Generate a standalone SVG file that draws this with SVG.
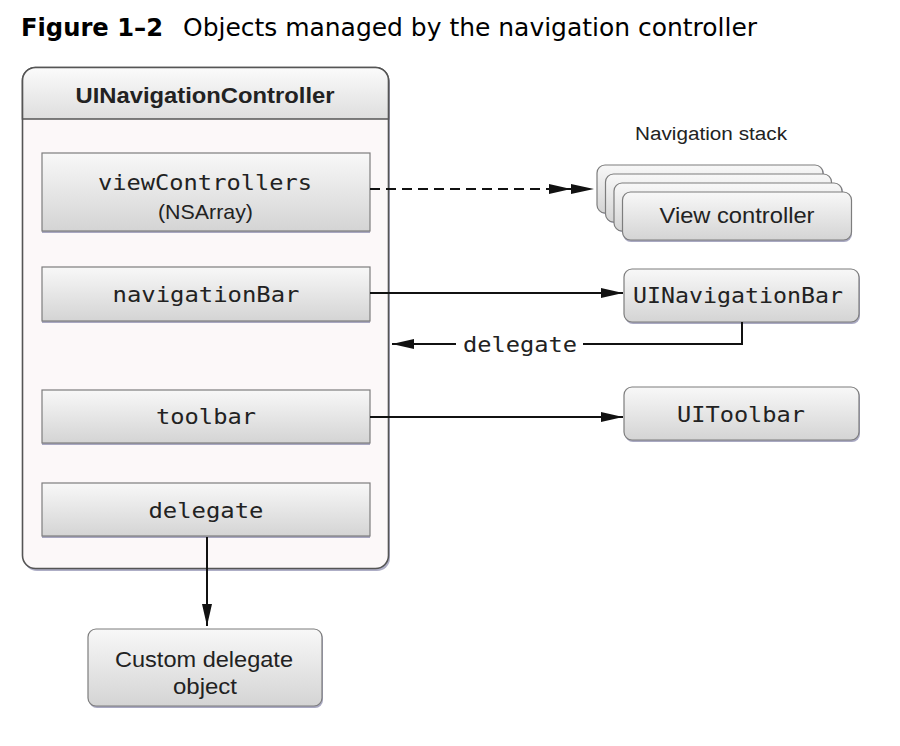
<svg xmlns="http://www.w3.org/2000/svg" width="900" height="746" viewBox="0 0 900 746">
<style>
.mono{font-family:"DejaVu Sans Mono","Liberation Mono",monospace;font-size:21px;fill:#222}
.sans{font-family:"Liberation Sans",Arial,sans-serif;fill:#222}
.box{fill:url(#gBox);stroke:#7d7d7d;stroke-width:1.2}
.shadow{fill:#8c8cae;opacity:0.75}
.conn{fill:none;stroke:#111;stroke-width:2}
</style>
<defs>
<linearGradient id="gBox" x1="0" y1="0" x2="0" y2="1">
<stop offset="0" stop-color="#f8f8f8"/>
<stop offset="1" stop-color="#d4d4d4"/>
</linearGradient>
<linearGradient id="gHead" x1="0" y1="0" x2="0" y2="1">
<stop offset="0" stop-color="#fbfbfb"/>
<stop offset="1" stop-color="#dedede"/>
</linearGradient>
<marker id="arrow" viewBox="0 0 22 10" refX="22" refY="5" markerWidth="22" markerHeight="10" markerUnits="userSpaceOnUse" orient="auto">
<path d="M0,0 L22,5 L0,10 z" fill="#111"/>
</marker>
<marker id="dblarrow" viewBox="0 0 45 10" refX="45" refY="5" markerWidth="45" markerHeight="10" markerUnits="userSpaceOnUse" orient="auto">
<path d="M0,0 L22,5 L0,10 z M22,0 L45,5 L22,10 z" fill="#111"/>
</marker>
</defs>
<rect width="900" height="746" fill="#ffffff"/>

<g id="title">
<text x="21" y="36" font-family="DejaVu Sans, sans-serif" font-size="24" font-weight="bold" fill="#000" textLength="142" lengthAdjust="spacingAndGlyphs">Figure 1–2</text>
<text x="183" y="36" font-family="DejaVu Sans, sans-serif" font-size="24" fill="#000" textLength="574" lengthAdjust="spacingAndGlyphs">Objects managed by the navigation controller</text>
</g>

<g id="navController">
<rect x="24" y="70" width="366" height="501" rx="13" fill="#8c8cae" opacity="0.7"/>
<rect x="22.5" y="67.5" width="366" height="501" rx="13" fill="#fcf8f9" stroke="#555" stroke-width="1.6"/>
<path d="M22.5,119 V80.5 A13,13 0 0 1 35.5,67.5 H375.5 A13,13 0 0 1 388.5,80.5 V119 Z" fill="url(#gHead)" stroke="#555" stroke-width="1.6"/>
<text x="205" y="103" text-anchor="middle" class="sans" font-size="22" font-weight="bold" fill="#111" textLength="259" lengthAdjust="spacingAndGlyphs">UINavigationController</text>
</g>

<g id="viewControllers">
<rect x="42" y="155" width="328" height="78" class="shadow"/>
<rect x="42" y="153" width="328" height="78" class="box"/>
<text x="205" y="190" text-anchor="middle" class="mono" textLength="214" lengthAdjust="spacingAndGlyphs">viewControllers</text>
<text x="205.5" y="219" text-anchor="middle" class="sans" font-size="21" textLength="95" lengthAdjust="spacingAndGlyphs">(NSArray)</text>
</g>

<g id="navigationBar">
<rect x="42" y="269" width="328" height="54" class="shadow"/>
<rect x="42" y="267" width="328" height="54" class="box"/>
<text x="206" y="302" text-anchor="middle" class="mono" textLength="187" lengthAdjust="spacingAndGlyphs">navigationBar</text>
</g>

<g id="toolbar">
<rect x="42" y="392" width="328" height="53" class="shadow"/>
<rect x="42" y="390" width="328" height="53" class="box"/>
<text x="206" y="424" text-anchor="middle" class="mono" textLength="100" lengthAdjust="spacingAndGlyphs">toolbar</text>
</g>

<g id="delegateProp">
<rect x="42" y="485" width="328" height="53" class="shadow"/>
<rect x="42" y="483" width="328" height="53" class="box"/>
<text x="206" y="518" text-anchor="middle" class="mono" textLength="115" lengthAdjust="spacingAndGlyphs">delegate</text>
</g>

<g id="navigationStack">
<text x="711" y="140" text-anchor="middle" class="sans" font-size="18" textLength="152" lengthAdjust="spacingAndGlyphs">Navigation stack</text>
<rect x="598" y="166" width="226" height="48" rx="8" class="shadow"/>
<rect x="597" y="165" width="226" height="48" rx="8" class="box"/>
<rect x="606" y="175" width="226" height="48" rx="8" class="shadow"/>
<rect x="605.5" y="174" width="226" height="48" rx="8" class="box"/>
<rect x="615" y="184" width="228" height="48" rx="8" class="shadow"/>
<rect x="614" y="183" width="228" height="48" rx="8" class="box"/>
<rect x="623" y="194" width="229" height="48" rx="8" class="shadow"/>
<rect x="622.5" y="192" width="229" height="48" rx="8" class="box"/>
<text x="737" y="223" text-anchor="middle" class="sans" font-size="22" textLength="155" lengthAdjust="spacingAndGlyphs">View controller</text>
</g>

<g id="uiNavigationBar">
<rect x="625" y="271" width="235" height="53" rx="8" class="shadow"/>
<rect x="624" y="269" width="235" height="53" rx="8" class="box"/>
<text x="738" y="303" text-anchor="middle" class="mono" textLength="210" lengthAdjust="spacingAndGlyphs">UINavigationBar</text>
</g>

<g id="uiToolbar">
<rect x="625" y="389" width="235" height="53" rx="8" class="shadow"/>
<rect x="624" y="387" width="235" height="53" rx="8" class="box"/>
<text x="741" y="422" text-anchor="middle" class="mono" textLength="128" lengthAdjust="spacingAndGlyphs">UIToolbar</text>
</g>

<g id="customDelegate">
<rect x="89" y="631" width="234" height="77" rx="8" class="shadow"/>
<rect x="88" y="629" width="234" height="77" rx="8" class="box"/>
<text x="204" y="667" text-anchor="middle" class="sans" font-size="22" textLength="178" lengthAdjust="spacingAndGlyphs">Custom delegate</text>
<text x="205" y="694" text-anchor="middle" class="sans" font-size="22" textLength="64" lengthAdjust="spacingAndGlyphs">object</text>
</g>

<g id="connectors">
<path d="M370,189 H594" class="conn" stroke-dasharray="10,6" marker-end="url(#dblarrow)"/>
<path d="M370,293 H623" class="conn" marker-end="url(#arrow)"/>
<path d="M742,322 V344 H583" class="conn"/>
<path d="M456,344 H392" class="conn" marker-end="url(#arrow)"/>
<text x="520" y="352" text-anchor="middle" class="mono" textLength="114" lengthAdjust="spacingAndGlyphs">delegate</text>
<path d="M370,417 H623" class="conn" marker-end="url(#arrow)"/>
<path d="M207,537 V626" class="conn" marker-end="url(#arrow)"/>
</g>
</svg>
